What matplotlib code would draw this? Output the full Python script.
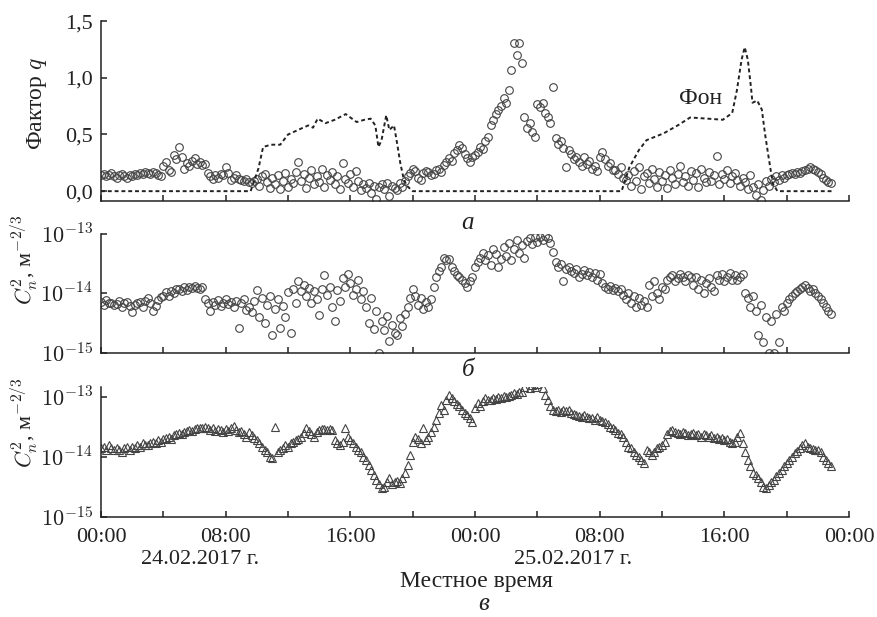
import numpy as np
import matplotlib.pyplot as plt
from matplotlib.ticker import FixedLocator, NullLocator

plt.rcParams['font.family'] = ['Liberation Serif', 'DejaVu Serif']
plt.rcParams['mathtext.fontset'] = 'cm'

## data, one row per hour, sampled every 10 min
q_factor = [
    0.14, 0.15, 0.13, 0.14, 0.16, 0.13,
    0.12, 0.14, 0.15, 0.13, 0.12, 0.14,
    0.13, 0.15, 0.14, 0.16, 0.15, 0.17,
    0.16, 0.15, 0.17, 0.16, 0.14, 0.13,
    0.22, 0.26, 0.19, 0.17, 0.32, 0.28,
    0.39, 0.30, 0.20, 0.25, 0.22, 0.27,
    0.29, 0.24, 0.26, 0.23, 0.24, 0.16,
    0.13, 0.11, 0.14, 0.12, 0.15, 0.14,
    0.21, 0.16, 0.10, 0.12, 0.14, 0.11,
    0.10, 0.09, 0.11, 0.08, 0.07, 0.09,
    0.11, 0.05, 0.13, 0.15, 0.08, 0.03,
    0.12, 0.06, 0.14, 0.02, 0.09, 0.16,
    0.04, 0.11, 0.07, 0.17, 0.26, 0.09,
    0.15, 0.03, 0.12, 0.19, 0.06, 0.13,
    0.08, 0.20, 0.04, 0.14, 0.10, 0.17,
    0.06, 0.13, 0.02, 0.25, 0.11, 0.07,
    0.15, 0.04, 0.18, 0.09, 0.01, 0.06,
    0.03, 0.07, -0.02, 0.05, -0.07, 0.04,
    0.06, 0.02, 0.07, -0.04, 0.05, 0.03,
    0.01, 0.07, 0.04, 0.09, 0.13, 0.16,
    0.20, 0.18, 0.12, 0.10, 0.16, 0.18,
    0.17, 0.14, 0.15, 0.19, 0.20, 0.17,
    0.23, 0.26, 0.29, 0.27, 0.34, 0.36,
    0.41, 0.38, 0.33, 0.29, 0.26, 0.30,
    0.32, 0.35, 0.39, 0.37, 0.44, 0.48,
    0.58, 0.63, 0.68, 0.72, 0.75, 0.82,
    0.78, 0.89, 1.07, 1.31, 1.20, 1.31,
    1.13, 0.65, 0.56, 0.60, 0.52, 0.48,
    0.77, 0.74, 0.78, 0.69, 0.65, 0.60,
    0.92, 0.47, 0.42, 0.44, 0.38, 0.21,
    0.36, 0.33, 0.28, 0.30, 0.26, 0.22,
    0.30, 0.24, 0.27, 0.20, 0.22, 0.18,
    0.30, 0.35, 0.28, 0.22, 0.25, 0.19,
    0.19, 0.15, 0.21, 0.12, 0.10, 0.14,
    0.05, 0.18, 0.09, 0.21, 0.02, 0.13,
    0.16, 0.07, 0.20, 0.11, 0.04, 0.17,
    0.09, 0.14, 0.03, 0.19, 0.12, 0.06,
    0.15, 0.22, 0.08, 0.13, 0.05, 0.18,
    0.10, 0.16, 0.04, 0.20, 0.12, 0.08,
    0.17, 0.09, 0.14, 0.31, 0.06, 0.15,
    0.11, 0.19, 0.07, 0.13, 0.16, 0.10,
    0.05, 0.12, 0.08, 0.02, 0.14, 0.04,
    -0.03, 0.06, -0.08, 0.01, 0.09, 0.05,
    0.11, 0.08, 0.13, 0.10, 0.14, 0.12,
    0.14, 0.15, 0.16, 0.15, 0.17, 0.16,
    0.18, 0.19, 0.20, 0.21, 0.20, 0.19,
    0.17, 0.15, 0.12, 0.10, 0.08, 0.07,
]

# background ("Фон") curve
fon_hours = [0, 9.6, 10.1, 10.4, 10.9, 11.5, 12.0, 12.8, 13.3, 13.6, 13.9, 14.4,
             15.0, 15.7, 16.4, 16.9, 17.3, 17.6, 17.8, 18.0, 18.3, 18.5, 18.8,
             19.0, 19.2, 19.4, 19.6, 20.0, 33.4, 33.9, 34.5, 35.0, 36.1, 37.0,
             37.8, 38.9, 39.9, 40.5, 40.8, 41.1, 41.3, 41.5, 41.7, 41.8, 42.1,
             42.4, 42.6, 42.8, 43.1, 43.4, 47.0]
fon_values = [0, 0, 0.20, 0.39, 0.41, 0.41, 0.50, 0.55, 0.58, 0.56, 0.64, 0.60,
              0.63, 0.68, 0.61, 0.63, 0.64, 0.58, 0.39, 0.45, 0.67, 0.54, 0.58,
              0.42, 0.25, 0.12, 0.05, 0, 0, 0.21, 0.36, 0.45, 0.51, 0.58,
              0.65, 0.64, 0.63, 0.69, 0.89, 1.16, 1.27, 1.16, 0.92, 0.78, 0.80,
              0.72, 0.51, 0.33, 0.07, 0, 0]

# Cn2, units of 1e-15 m^-2/3 ; (a) circles
cn2_a = [
    7.2, 6.5, 7.8, 6.8, 7.0, 6.3,
    6.6, 7.4, 6.0, 6.9, 7.1, 6.2,
    4.9, 6.4, 6.8, 7.3, 6.0, 7.5,
    8.5, 7.0, 5.0, 6.2, 7.8, 8.6,
    9.2, 10.5, 9.0, 11.0, 10.2, 11.8,
    12.0, 11.0, 12.8, 11.5, 13.0, 12.2,
    13.5, 12.4, 11.8, 13.0, 8.0, 6.8,
    5.0, 7.2, 6.5, 7.8, 6.2, 7.0,
    8.0, 6.6, 7.2, 6.0, 7.5, 2.6,
    6.8, 8.2, 5.2, 6.0, 4.8, 7.5,
    11.5, 4.0, 8.5, 3.2, 6.5, 9.0,
    2.0, 5.5, 8.0, 2.6, 6.2, 4.0,
    10.5, 2.2, 12.0, 7.0, 16.0, 11.0,
    14.0, 9.0, 12.5, 6.8, 11.0, 8.0,
    4.4, 12.0, 20.0, 9.5, 13.0, 6.0,
    3.5, 11.5, 7.5, 18.0, 13.0, 21.0,
    15.0, 9.5, 12.0, 17.0, 8.0, 11.0,
    6.0, 3.2, 8.5, 2.5, 5.0, 1.0,
    3.5, 2.4, 4.2, 1.6, 3.0, 2.2,
    2.0, 3.8, 2.8, 4.5, 6.0, 8.5,
    12.0, 9.0, 6.5, 8.5, 5.5, 7.2,
    6.0, 8.0, 13.0, 19.0, 24.0, 28.0,
    40.0, 36.0, 38.0, 28.0, 24.0, 20.0,
    19.0, 17.0, 15.0, 13.0, 16.0, 19.0,
    28.0, 34.0, 40.0, 48.0, 36.0, 44.0,
    30.0, 55.0, 45.0, 28.0, 38.0, 60.0,
    42.0, 70.0, 36.0, 55.0, 80.0, 48.0,
    65.0, 40.0, 75.0, 85.0, 68.0, 90.0,
    72.0, 88.0, 78.0, 92.0, 85.0, 70.0,
    50.0, 34.0, 28.0, 31.0, 16.0, 26.0,
    28.0, 24.0, 22.0, 26.0, 19.0, 21.0,
    25.0, 20.0, 23.0, 19.0, 22.0, 17.0,
    21.0, 15.0, 13.0, 12.0, 13.5, 11.5,
    12.5, 11.0, 12.0, 9.5, 8.0, 10.0,
    7.0, 9.0, 6.0, 8.5, 6.5, 7.5,
    6.0, 14.0, 9.0, 16.0, 10.0, 8.0,
    13.0, 12.0, 17.0, 19.0, 20.0, 16.0,
    18.0, 21.0, 19.0, 16.0, 20.0, 18.5,
    14.0, 19.0, 12.0, 16.5, 10.0, 15.0,
    18.0, 13.0, 11.0, 20.0, 17.0, 21.0,
    16.0, 19.0, 22.0, 17.0, 20.0, 16.5,
    19.0, 21.0, 10.0, 8.5, 6.0, 9.0,
    5.0, 2.0, 6.5, 1.5, 4.0, 1.0,
    3.5, 1.0, 4.5, 1.5, 6.0, 5.0,
    7.0, 8.0, 9.0, 10.0, 11.0, 12.0,
    13.0, 14.0, 12.5, 11.0, 12.0, 10.0,
    9.0, 8.0, 7.0, 6.0, 5.0, 4.5,
]

# (b) triangles
cn2_b = [
    14, 15, 13, 16, 14, 13,
    14, 13, 12, 14, 15, 13,
    15, 14, 16, 15, 17, 16,
    16, 17, 18, 17, 19, 18,
    20, 21, 22, 20, 23, 24,
    25, 24, 26, 27, 28, 27,
    29, 30, 31, 30, 32, 30,
    28, 30, 27, 29, 28, 26,
    29, 27, 31, 33, 28, 26,
    27, 24, 22, 26, 23, 21,
    19, 17, 15, 13, 12, 10,
    9.5, 32, 12, 13, 14, 16,
    15, 17, 18, 19, 20, 22,
    25, 31, 27, 24, 22, 26,
    28, 29, 29, 28, 29, 28,
    19, 17, 16, 18, 30, 22,
    19, 17, 15, 13, 12, 10,
    9, 7.5, 6, 5, 4.2, 3.5,
    3.0, 3.2, 3.8, 4.4, 3.6, 3.9,
    4.0, 3.7, 4.5, 5.5, 7.5, 11,
    18, 22, 20, 17, 30, 19,
    22, 26, 32, 42, 55, 75,
    60, 90, 110, 95, 85, 78,
    70, 62, 55, 50, 45, 38,
    65, 80, 72, 85, 95, 88,
    88, 95, 92, 100, 98, 104,
    100, 106, 110, 115, 112, 120,
    120, 150, 190, 140, 160, 150,
    165, 200, 140, 110, 90, 70,
    62, 58, 60, 56, 60, 58,
    60, 55, 52, 50, 48, 46,
    50, 47, 45, 44, 42, 46,
    42, 40, 38, 35, 32, 30,
    28, 25, 24, 22, 18, 15,
    14, 12, 11, 10, 9, 8,
    13, 12, 11, 12, 14, 15,
    16, 18, 24, 27, 28, 26,
    25, 24, 26, 25, 23, 24,
    25, 23, 24, 22, 24, 23,
    22, 23, 21, 22, 20, 21,
    19, 20, 18, 17, 18, 22,
    25, 17, 12, 9, 7, 5.5,
    5, 4.5, 3.8, 3.2, 3.0, 3.4,
    3.8, 4.2, 4.8, 5.5, 6.2, 7.0,
    8, 9, 10, 11.5, 12.5, 14,
    16, 17, 15, 14, 13.5, 13,
    13, 12, 10, 9, 8, 7,
]

hour_ticks = [0, 4, 8, 12, 16, 20, 24, 28, 32, 36, 40, 44, 48]
hour_labels = ['00:00', '', '08:00', '', '16:00', '', '00:00', '', '08:00', '', '16:00', '', '00:00']
date_labels = ['24.02.2017 г.', '25.02.2017 г.']

hours = np.arange(len(q_factor)) / 6.0
cn2_a = np.array(cn2_a) * 1e-15
cn2_b = np.array(cn2_b) * 1e-15

ink = '#222222'
mk = '#444444'

fig = plt.figure(figsize=(8.77, 6.17), dpi=100)
ax1 = fig.add_axes([0.1152, 0.674, 0.853, 0.2917])
ax2 = fig.add_axes([0.1152, 0.428, 0.853, 0.193])
ax3 = fig.add_axes([0.1152, 0.162, 0.853, 0.2107])

ax1.plot(hours, q_factor, ls='none', marker='o', ms=5.5, mfc='none', mec=mk, mew=0.8)
ax1.plot(fon_hours, fon_values, color=ink, lw=1.4, dashes=(2.0, 1.5))
ax1.set_ylim(-0.088, 1.5)
ax1.set_yticks([0.0, 0.5, 1.0, 1.5])
ax1.set_yticklabels(['0,0', '0,5', '1,0', '1,5'])
ax1.text(38.45, 0.82, 'Фон', fontsize=17, ha='center', va='center', color=ink)

ax2.plot(hours, cn2_a, ls='none', marker='o', ms=5.5, mfc='none', mec=mk, mew=0.8)
ax2.set_yscale('log')
ax2.set_ylim(1e-15, 1e-13)

ax3.plot(hours, cn2_b, ls='none', marker='^', ms=5.5, mfc='none', mec=mk, mew=0.8)
ax3.set_yscale('log')
ax3.set_ylim(1e-15, 1.47e-13)

for ax in (ax2, ax3):
    ax.yaxis.set_major_locator(FixedLocator([1e-15, 1e-14, 1e-13]))
    ax.yaxis.set_minor_locator(NullLocator())
    ax.set_yticklabels([r'$10^{-15}$', r'$10^{-14}$', r'$10^{-13}$'])

for ax in (ax1, ax2, ax3):
    ax.set_xlim(0, 48)
    ax.set_xticks(hour_ticks)
    ax.set_xticklabels(hour_labels if ax is ax3 else [''] * len(hour_ticks))
    ax.spines['top'].set_visible(False)
    ax.spines['right'].set_visible(False)
    for s in ('left', 'bottom'):
        ax.spines[s].set_linewidth(1.1)
        ax.spines[s].set_color(ink)
    ax.tick_params(direction='in', length=4.5, width=1.1, color=ink,
                   labelsize=16, pad=6, labelcolor=ink)
    ax.tick_params(axis='x', pad=8)
    ax.patch.set_visible(False)

# y labels
fig.text(37 / 877, 1 - 103 / 617, 'Фактор $q$', rotation=90, fontsize=17,
         ha='center', va='center', color=ink)
fig.text(25 / 877, 1 - 260 / 617, '$C_n^2$, м$^{-2/3}$', rotation=90, fontsize=16,
         ha='center', va='center', color=ink)
fig.text(25 / 877, 1 - 423 / 617, '$C_n^2$, м$^{-2/3}$', rotation=90, fontsize=16,
         ha='center', va='center', color=ink)

# panel letters and bottom captions
fig.text(468 / 877, 1 - 223 / 617, 'а', style='italic', fontsize=18, ha='center', va='center', color=ink)
fig.text(468 / 877, 1 - 370 / 617, 'б', style='italic', fontsize=18, ha='center', va='center', color=ink)
fig.text(484 / 877, 1 - 604 / 617, 'в', style='italic', fontsize=18, ha='center', va='center', color=ink)
fig.text(200 / 877, 1 - 559 / 617, date_labels[0], fontsize=16, ha='center', va='center', color=ink)
fig.text(573 / 877, 1 - 559 / 617, date_labels[1], fontsize=16, ha='center', va='center', color=ink)
fig.text(476 / 877, 1 - 581 / 617, 'Местное время', fontsize=17, ha='center', va='center', color=ink)

fig.savefig('out.png', dpi=100)
